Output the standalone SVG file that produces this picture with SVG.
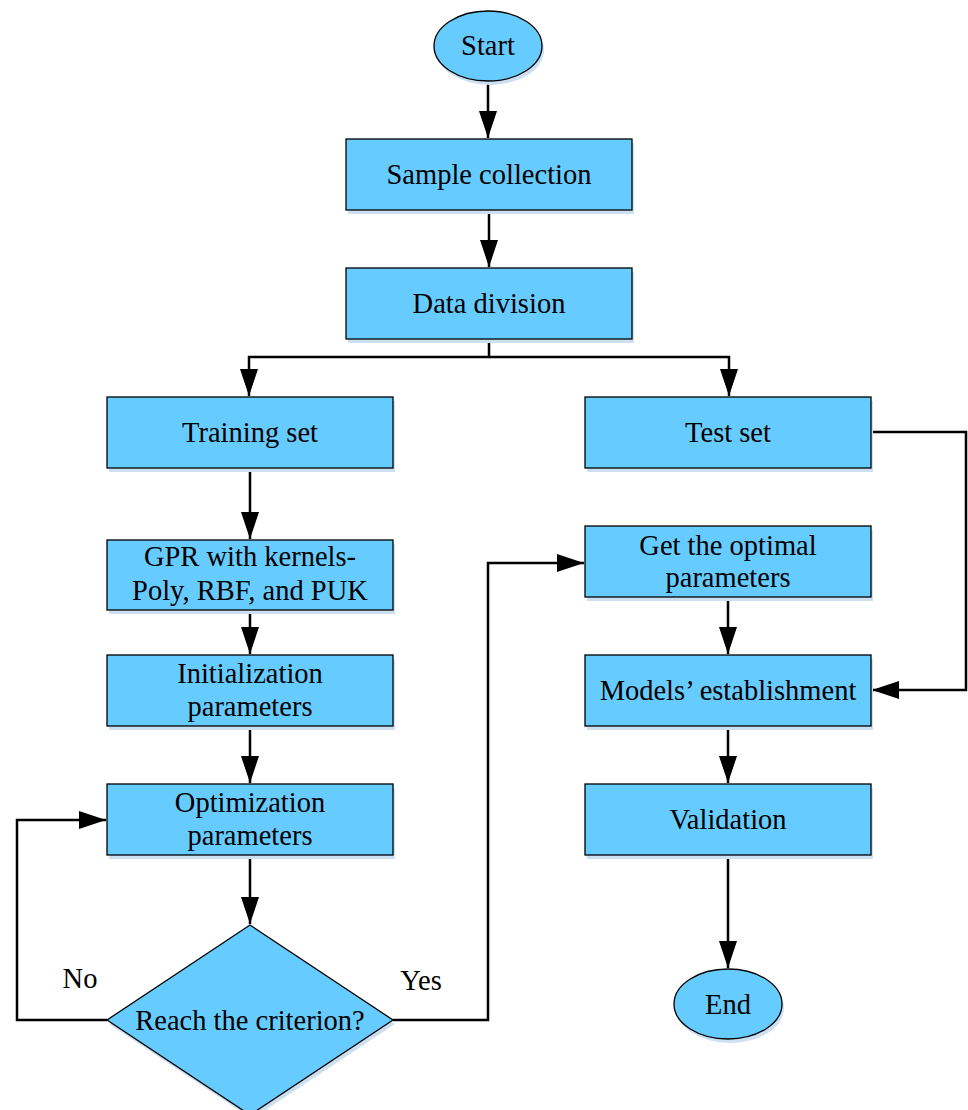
<svg xmlns="http://www.w3.org/2000/svg" width="968" height="1110" viewBox="0 0 968 1110">
<style>
.sh{fill:#cde0f2;stroke:none}
.box{fill:#66ccff;stroke:#000;stroke-width:1.3}
.t{font-family:"Liberation Serif","DejaVu Serif",serif;font-size:28.5px;fill:#000;text-anchor:middle}
.c{fill:none;stroke:#000;stroke-width:2.5}
</style>
<defs>
<marker id="ah" viewBox="0 0 27 18" refX="27" refY="9" markerWidth="27" markerHeight="18" markerUnits="userSpaceOnUse" orient="auto">
<path d="M0,0 L27,9 L0,18 Z" fill="#000"/>
</marker>
</defs>
<rect width="968" height="1110" fill="#fff"/>
<g id="connectors">
<path class="c" d="M488,81 V138" marker-end="url(#ah)"/>
<path class="c" d="M489,210 V267" marker-end="url(#ah)"/>
<path class="c" d="M489,339 V357 H249 V396" marker-end="url(#ah)"/>
<path class="c" d="M489,357 H729 V396" marker-end="url(#ah)"/>
<path class="c" d="M250,468 V539" marker-end="url(#ah)"/>
<path class="c" d="M250,610 V654" marker-end="url(#ah)"/>
<path class="c" d="M250,726 V783" marker-end="url(#ah)"/>
<path class="c" d="M250,855 V924" marker-end="url(#ah)"/>
<path class="c" d="M107,1020 H17 V820 H106" marker-end="url(#ah)"/>
<path class="c" d="M393,1020 H488 V563 H584" marker-end="url(#ah)"/>
<path class="c" d="M871,432 H966 V690 H872" marker-end="url(#ah)"/>
<path class="c" d="M728,597 V654" marker-end="url(#ah)"/>
<path class="c" d="M728,726 V783" marker-end="url(#ah)"/>
<path class="c" d="M728,855 V968" marker-end="url(#ah)"/>
</g>
<g id="start">
<ellipse class="sh" cx="490" cy="50" rx="54" ry="35"/>
<ellipse class="box" cx="488" cy="46" rx="54" ry="35"/>
<text class="t" x="488" y="55">Start</text>
</g>
<g id="sample">
<rect class="sh" x="348" y="143" width="286" height="71"/>
<rect class="box" x="346" y="139" width="286" height="71"/>
<text class="t" x="489" y="184">Sample collection</text>
</g>
<g id="division">
<rect class="sh" x="348" y="272" width="286" height="71"/>
<rect class="box" x="346" y="268" width="286" height="71"/>
<text class="t" x="489" y="313">Data division</text>
</g>
<g id="training">
<rect class="sh" x="109" y="401" width="286" height="71"/>
<rect class="box" x="107" y="397" width="286" height="71"/>
<text class="t" x="250" y="442">Training set</text>
</g>
<g id="test">
<rect class="sh" x="587" y="401" width="286" height="71"/>
<rect class="box" x="585" y="397" width="286" height="71"/>
<text class="t" x="728" y="442">Test set</text>
</g>
<g id="gpr">
<rect class="sh" x="109" y="544" width="286" height="70"/>
<rect class="box" x="107" y="540" width="286" height="70"/>
<text class="t" x="250" y="566">GPR with kernels-</text>
<text class="t" x="250" y="600">Poly, RBF, and PUK</text>
</g>
<g id="init">
<rect class="sh" x="109" y="659" width="286" height="71"/>
<rect class="box" x="107" y="655" width="286" height="71"/>
<text class="t" x="250" y="683">Initialization</text>
<text class="t" x="250" y="716">parameters</text>
</g>
<g id="optim">
<rect class="sh" x="109" y="788" width="286" height="71"/>
<rect class="box" x="107" y="784" width="286" height="71"/>
<text class="t" x="250" y="812">Optimization</text>
<text class="t" x="250" y="845">parameters</text>
</g>
<g id="criterion">
<polygon class="sh" points="252,929 395,1024 252,1119 109,1024"/>
<polygon class="box" points="250,925 393,1020 250,1115 107,1020"/>
<text class="t" x="250" y="1030">Reach the criterion?</text>
</g>
<g id="optimal">
<rect class="sh" x="587" y="530" width="286" height="71"/>
<rect class="box" x="585" y="526" width="286" height="71"/>
<text class="t" x="728" y="555">Get the optimal</text>
<text class="t" x="728" y="587">parameters</text>
</g>
<g id="models">
<rect class="sh" x="587" y="659" width="286" height="71"/>
<rect class="box" x="585" y="655" width="286" height="71"/>
<text class="t" x="728" y="700">Models’ establishment</text>
</g>
<g id="validation">
<rect class="sh" x="587" y="788" width="286" height="71"/>
<rect class="box" x="585" y="784" width="286" height="71"/>
<text class="t" x="728" y="829">Validation</text>
</g>
<g id="end">
<ellipse class="sh" cx="730" cy="1008" rx="54" ry="35"/>
<ellipse class="box" cx="728" cy="1004" rx="54" ry="35"/>
<text class="t" x="728" y="1014">End</text>
</g>
<g id="labels">
<text class="t" x="80" y="988">No</text>
<text class="t" x="421" y="990">Yes</text>
</g>
</svg>
